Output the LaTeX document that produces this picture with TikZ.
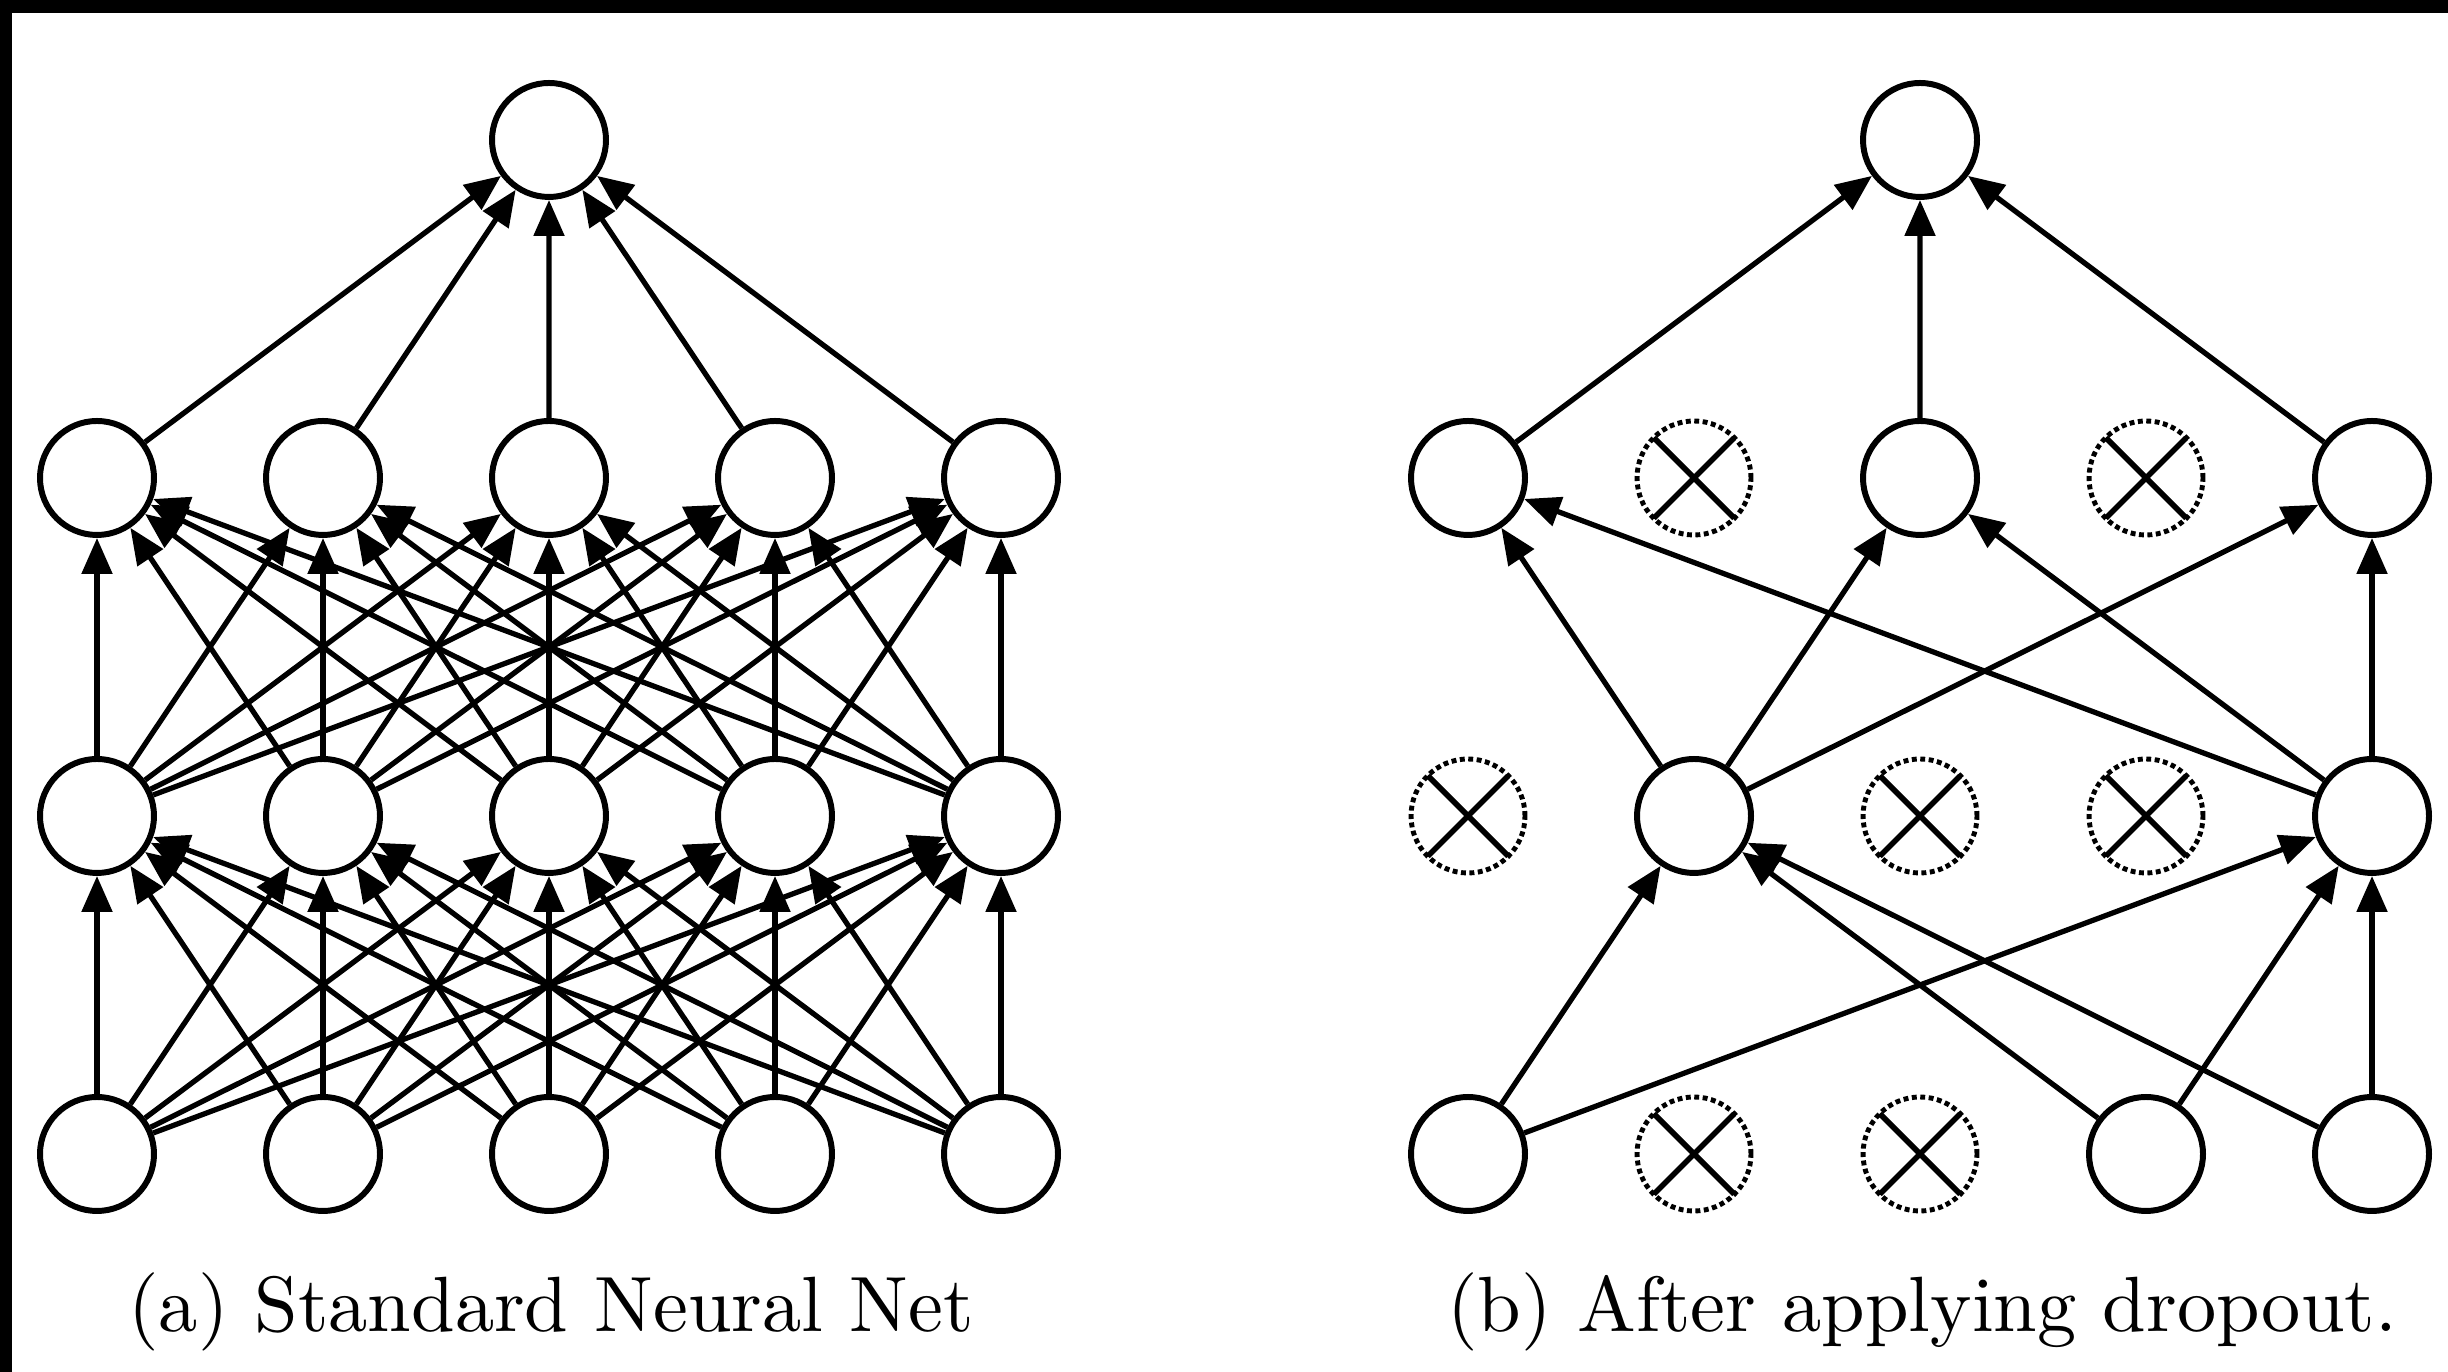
\documentclass[tikz,border=0pt]{standalone}
\usepackage{amsmath, amsfonts, amssymb}
\usepackage{tikz}
\usetikzlibrary{arrows.meta}

\begin{document}
\begin{tikzpicture}[
		neuron/.style = {circle, draw, line width=1.7pt, minimum size=1.14cm, inner sep=0pt},
		dropped/.style = {circle, draw, densely dotted, line width=1.4pt, minimum size=1.14cm, inner sep=0pt,
			path picture={\draw[solid, line width=1.6pt] (path picture bounding box.north west) -- (path picture bounding box.south east)
				(path picture bounding box.north east) -- (path picture bounding box.south west);}},
		conn/.style = {-{Triangle[length=3.6mm, width=3mm]}, line width=1.5pt},
		caption/.style = {font=\fontsize{10}{12}\selectfont, scale=2.23, transform shape, anchor=base}]
			\useasboundingbox (0,0) rectangle (24.48,13.72);
			\fill (0,13.59) rectangle (24.48,13.72);
			\fill (0,0) rectangle (0.12,13.72);
			% (a) standard net
			\node[neuron] (a-out) at (5.49,12.32) {};
			\foreach \i in {1,...,5} {
				\node[neuron] (a-g\i) at ({0.97+2.26*(\i-1)},8.94) {};
				\node[neuron] (a-h\i) at ({0.97+2.26*(\i-1)},5.56) {};
				\node[neuron] (a-in\i) at ({0.97+2.26*(\i-1)},2.18) {};
			}
			\foreach \i in {1,...,5} {
				\draw[conn] (a-g\i) -- (a-out);
				\foreach \j in {1,...,5} {
					\draw[conn] (a-h\i) -- (a-g\j);
					\draw[conn] (a-in\i) -- (a-h\j);
				}
			}
			\node[caption] (cap-a) at (5.51,0.40) {(a) Standard Neural Net};
			% (b) thinned net
			\node[neuron] (b-out) at (19.20,12.32) {};
			\foreach \i/\g/\h/\n in {1/neuron/dropped/neuron, 2/dropped/neuron/dropped, 3/neuron/dropped/dropped,
					4/dropped/dropped/neuron, 5/neuron/neuron/neuron} {
				\node[\g] (b-g\i) at ({14.68+2.26*(\i-1)},8.94) {};
				\node[\h] (b-h\i) at ({14.68+2.26*(\i-1)},5.56) {};
				\node[\n] (b-in\i) at ({14.68+2.26*(\i-1)},2.18) {};
			}
			\foreach \i in {1,3,5}
				\draw[conn] (b-g\i) -- (b-out);
			\foreach \i in {2,5}
				\foreach \j in {1,3,5}
					\draw[conn] (b-h\i) -- (b-g\j);
			\foreach \i in {1,4,5}
				\foreach \j in {2,5}
					\draw[conn] (b-in\i) -- (b-h\j);
			\node[caption] (cap-b) at (19.22,0.40) {(b) After applying dropout.};
	\end{tikzpicture}
\end{document}
